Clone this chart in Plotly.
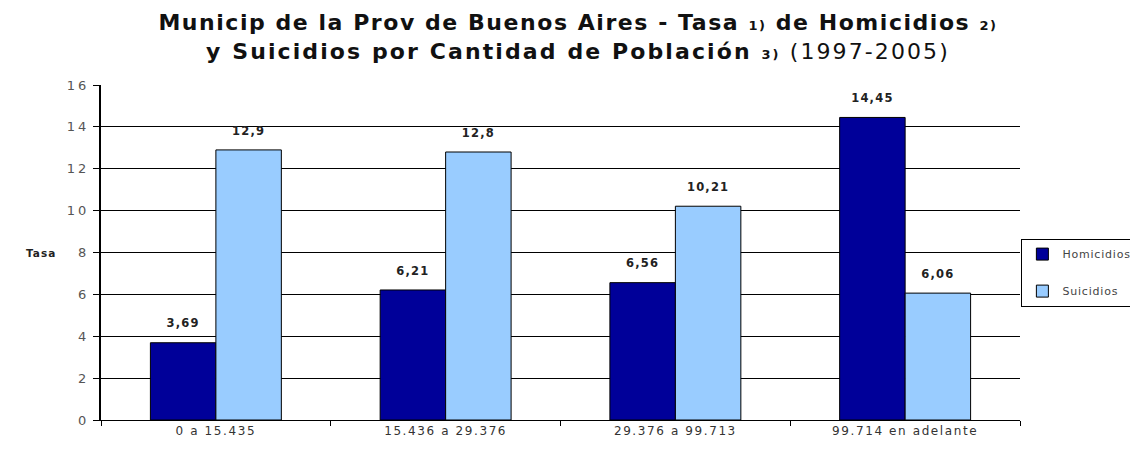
import plotly.graph_objects as go

categories = ["0 a 15.435", "15.436 a 29.376", "29.376 a 99.713", "99.714 en adelante"]
homicidios = [3.69, 6.21, 6.56, 14.45]
suicidios = [12.9, 12.8, 10.21, 6.06]
y_ticks = [0, 2, 4, 6, 8, 10, 12, 14, 16]

FONT = "DejaVu Sans, Liberation Sans, Arial"


def sp(t, ls):
    return "<span style='letter-spacing:%spx'>%s</span>" % (ls, t)


def fmt(v):
    s = ("%.2f" % v).rstrip("0").rstrip(".")
    return s.replace(".", ",")


def label(v):
    return ("<b><span style='font-size:11.5px;letter-spacing:1.2px'>" + fmt(v) +
            "</span></b><br> ")


fig = go.Figure()
fig.add_trace(go.Bar(
    x=categories, y=homicidios, name=sp("Homicidios", 0.8),
    marker=dict(color="#000099", line=dict(color="#000000", width=1)),
    text=[label(v) for v in homicidios], textposition="outside",
    textfont=dict(family=FONT, size=8, color="#222222"), constraintext="none",
    legendgroup="h", cliponaxis=False,
))
fig.add_trace(go.Bar(
    x=categories, y=suicidios, name=sp("Suicidios", 0.8),
    marker=dict(color="#99CCFF", line=dict(color="#000000", width=1)),
    text=[label(v) for v in suicidios], textposition="outside",
    textfont=dict(family=FONT, size=8, color="#222222"), constraintext="none",
    legendgroup="s", cliponaxis=False,
))

small = "<span style='font-size:13px'>%s</span>"
title_text = (
    "<b>" + sp("Municip de la Prov de Buenos Aires - Tasa " + small % "1)" +
              " de Homicidios " + small % "2)", 1.55) + "</b><br>" +
    "<b>" + sp("y Suicidios por Cantidad de Población " + small % "3)", 2.1) + "</b>" +
    sp(" (1997-2005)", 2.1)
)

# page body has an 8px margin: figure sits at (8, 8) in the window
fig.update_layout(
    width=1130, height=441,
    margin=dict(l=93, r=118, t=77, b=29, autoexpand=False),
    paper_bgcolor="white", plot_bgcolor="white",
    barmode="group", bargap=0.43, bargroupgap=0,
    font=dict(family=FONT, color="#333333"),
    title=dict(
        text=title_text,
        x=0.5044, xanchor="center", y=0.950, yanchor="middle",
        font=dict(family=FONT, size=22, color="#111111"),
    ),
    legend=dict(
        x=1.0015, xanchor="left", y=0.44, yanchor="middle",
        bordercolor="#000000", borderwidth=1, bgcolor="white",
        font=dict(family=FONT, size=11, color="#444444"),
        traceorder="grouped", tracegroupgap=18,
        itemwidth=30,
    ),
    showlegend=True,
)
fig.update_xaxes(
    tickmode="array", tickvals=categories, ticktext=[sp(c, 1.6) for c in categories],
    showline=True, linecolor="#000000", linewidth=1,
    ticks="outside", tickson="boundaries", ticklen=5, tickcolor="#000000",
    tickfont=dict(family=FONT, size=12, color="#333333"), showgrid=False,
    automargin=False,
)
fig.update_yaxes(
    range=[0, 16], tickmode="array", tickvals=y_ticks,
    ticktext=[sp(str(v), 3) for v in y_ticks],
    showline=True, linecolor="#000000", linewidth=2,
    ticks="outside", ticklen=6, tickcolor="#000000",
    tickfont=dict(family=FONT, size=13, color="#555555"),
    showgrid=True, gridcolor="#000000", gridwidth=1, zeroline=False,
    automargin=False, ticklabelstandoff=1,
)
fig.add_annotation(
    text="<b>" + sp("Tasa", 1.0) + "</b>", xref="paper", yref="paper", x=-0.047, y=0.5,
    xanchor="right", yanchor="middle", showarrow=False,
    font=dict(family=FONT, size=10.5, color="#222222"),
)

fig.write_html("out.html")
